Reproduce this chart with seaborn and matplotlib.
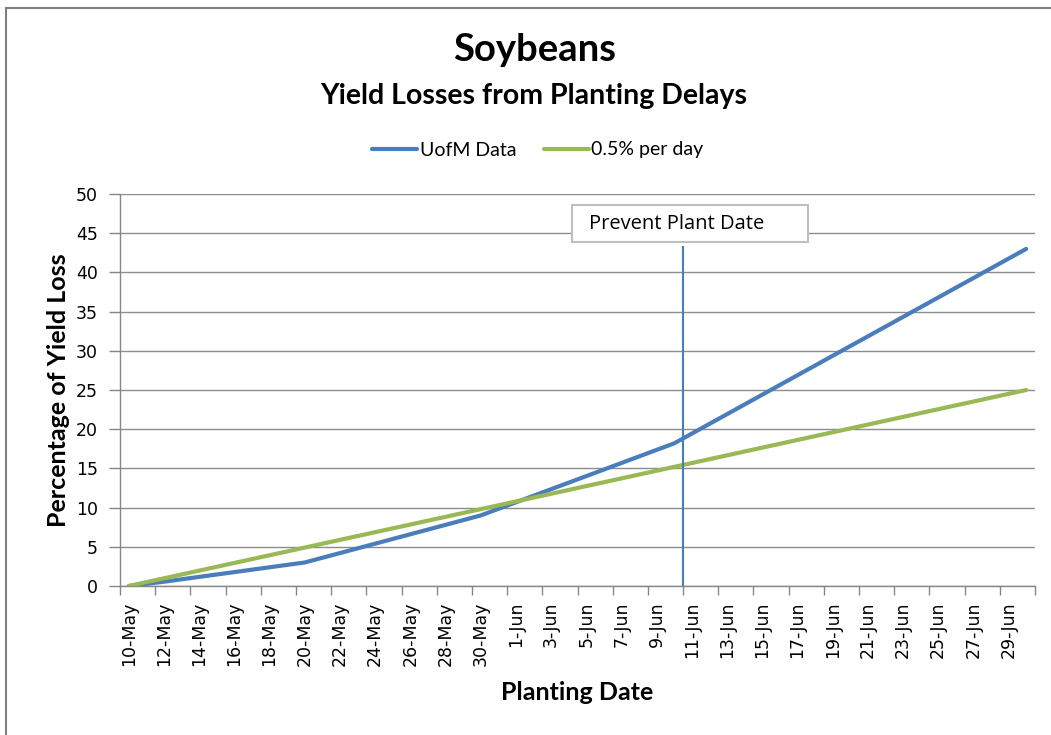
import pandas as pd
import seaborn as sns
import matplotlib.pyplot as plt
from matplotlib.patches import Rectangle

# Data (yield loss in %)
season_start = '2013-05-10'
season_end = '2013-06-30'

uofm_dates = ['2013-05-10', '2013-05-12', '2013-05-20', '2013-05-30', '2013-06-10', '2013-06-30']
uofm_loss = [0, 0.55, 3.0, 9.0, 18.2, 43.0]

rate_dates = ['2013-05-10', '2013-06-30']
rate_loss = [0, 25.0]

prevent_plant_date = '2013-06-10'
prevent_line_top = 43.4

tick_labels = ['10-May', '12-May', '14-May', '16-May', '18-May', '20-May', '22-May',
               '24-May', '26-May', '28-May', '30-May', '1-Jun', '3-Jun', '5-Jun',
               '7-Jun', '9-Jun', '11-Jun', '13-Jun', '15-Jun', '17-Jun', '19-Jun',
               '21-Jun', '23-Jun', '25-Jun', '27-Jun', '29-Jun']

series_names = ['UofM Data', '0.5% per day']
colors = ['#4A7EBB', '#98B954']

start = pd.Timestamp(season_start)
n_days = (pd.Timestamp(season_end) - start).days + 1

def to_day(dates):
    return [(pd.Timestamp(d) - start).days for d in dates]

df = pd.concat([
    pd.DataFrame({'day': to_day(uofm_dates), 'loss': uofm_loss, 'series': series_names[0]}),
    pd.DataFrame({'day': to_day(rate_dates), 'loss': rate_loss, 'series': series_names[1]}),
])

sns.set_theme(style='white')
plt.rcParams['font.family'] = ['Lato', 'DejaVu Sans']
plt.rcParams['text.color'] = 'black'
plt.rcParams['axes.labelcolor'] = 'black'

fig = plt.figure(figsize=(10.51, 7.35), dpi=100)
ax = fig.add_axes([120 / 1051, 1 - 586 / 735, 915 / 1051, 392 / 735])

sns.lineplot(data=df, x='day', y='loss', hue='series', palette=colors,
             linewidth=3, ax=ax, zorder=3)

# prevent plant marker (end of the day)
pp_day = to_day([prevent_plant_date])[0] + 0.5
ax.vlines(pp_day, 0, prevent_line_top, color='#4A7EBB', linewidth=1.5, zorder=4)
ax.add_patch(Rectangle((0.494, 0.8776), 0.258, 0.0944, transform=ax.transAxes,
                       facecolor='white', edgecolor='#BFBFBF', linewidth=1.5, zorder=5))
ax.text(0.5126, 0.9247, 'Prevent Plant Date', transform=ax.transAxes, ha='left',
        va='center', fontsize=14.5, family=['Open Sans', 'DejaVu Sans'],
        color='black', zorder=6)

# axes
ax.set_xlim(-0.5, n_days - 0.5)
ax.set_ylim(0, 50)
ax.set_yticks(range(0, 51, 5))
ax.set_xticks(range(0, n_days - 1, 2))
ax.set_xticklabels(tick_labels, rotation=90, family=['DejaVu Sans'], fontsize=12.5)
ax.set_xticks([x - 0.5 for x in range(0, n_days + 1, 2)], minor=True)
ax.tick_params(axis='x', which='major', length=0, pad=11, labelcolor='black')
ax.tick_params(axis='x', which='minor', bottom=True, length=6.5, width=1, color='#868686')
ax.tick_params(axis='y', left=True, length=8, width=1, color='#868686', pad=8,
               labelsize=12.5, labelcolor='black')
for lab in ax.get_yticklabels():
    lab.set_family(['DejaVu Sans'])
ax.grid(axis='y', color='#8C8C8C', linewidth=1)
ax.grid(axis='x', visible=False)
for s in ['top', 'right']:
    ax.spines[s].set_visible(False)
for s in ['left', 'bottom']:
    ax.spines[s].set_color('#868686')
    ax.spines[s].set_linewidth(1)
ax.set_xlabel('Planting Date', fontsize=18, fontweight='bold', labelpad=11)
ax.set_ylabel('Percentage of Yield Loss', fontsize=18, fontweight='bold', labelpad=4)

# titles
fig.text(535 / 1051, 1 - 50 / 735, 'Soybeans', ha='center', va='center',
         fontsize=27.5, fontweight='bold')
fig.text(534 / 1051, 1 - 96 / 735, 'Yield Losses from Planting Delays', ha='center',
         va='center', fontsize=20.5, fontweight='bold')

sns.move_legend(ax, 'center', bbox_to_anchor=(538 / 1051, 1 - 150 / 735),
                bbox_transform=fig.transFigure, ncol=2, frameon=False, title=None,
                fontsize=14, handlelength=2.3, handletextpad=0.15, columnspacing=1.4)

# chart border
fig.add_artist(Rectangle((6 / 1051, -0.05), 1.2, 1.05 - 8 / 735,
                         transform=fig.transFigure, fill=False,
                         edgecolor='#7F7F7F', linewidth=1.5))

fig.savefig('out.png', dpi=100, facecolor='white')
